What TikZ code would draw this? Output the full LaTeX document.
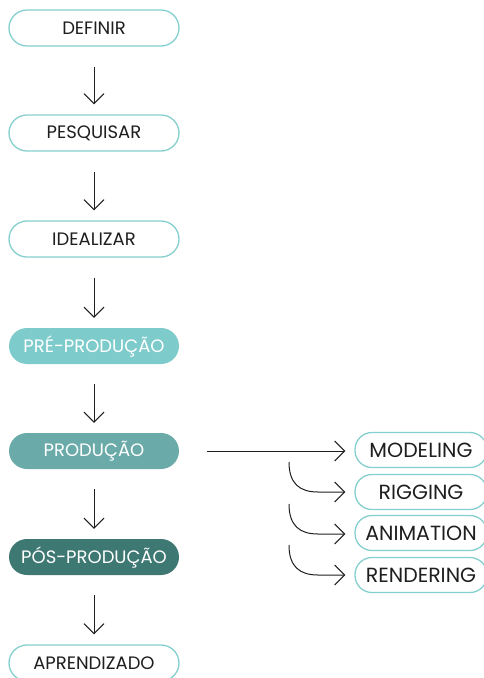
\documentclass[tikz,border=0pt]{standalone}
\usepackage{fontspec}
\setmainfont{Poppins}
\usetikzlibrary{arrows.meta,positioning}
\definecolor{tealline}{HTML}{86CFCF}
\definecolor{tealA}{HTML}{7ECBCB}
\definecolor{tealB}{HTML}{6AABA9}
\definecolor{tealC}{HTML}{3E7873}
\definecolor{ink}{HTML}{1E1E1E}
\tikzset{
  x=1pt,y=-1pt,
  stage/.style={rounded corners=18pt,minimum width=170pt,minimum height=36pt,inner sep=0pt,font=\fontsize{18}{21}\selectfont,text=ink},
  outl/.style={stage,draw=tealline,line width=1.3pt,fill=white},
  filledA/.style={stage,fill=tealA,text=white},
  filledB/.style={stage,fill=tealB,text=white},
  filledC/.style={stage,fill=tealC,text=white},
  sub/.style={outl,minimum width=132pt,minimum height=35pt,rounded corners=17pt,font=\fontsize{20.5}{24}\selectfont},
  flow/.style={draw=ink,line width=1pt,-{Straight Barb[length=10pt,width=20pt,line width=1pt]}},
}
\begin{document}
\begin{tikzpicture}
\useasboundingbox (0,0) rectangle (483,678);
\node[outl] (d) at (94,28) {DEFINIR};
\node[outl] (p) at (94,133) {PESQUISAR};
\node[outl] (i) at (94,239) {IDEALIZAR};
\node[filledA] (pre) at (94,346) {PRÉ-PRODUÇÃO};
\node[filledB] (prod) at (94,451) {PRODUÇÃO};
\node[filledC] (pos) at (94,557) {PÓS-PRODUÇÃO};
\node[outl] (a) at (94,663) {APRENDIZADO};

\node[sub] (m) at (421,450) {MODELING};
\node[sub] (r) at (421,492) {RIGGING};
\node[sub] (an) at (421,533) {ANIMATION};
\node[sub] (re) at (421,575) {RENDERING};

\foreach \u/\v in {d/p,p/i,i/pre,pre/prod,prod/pos,pos/a}{
  \draw[flow] ([yshift=-20pt]\u.south) -- ([yshift=10pt]\v.north);
}
\coordinate (h0) at (207,451);
\draw[flow] (h0) -- ([xshift=-9pt]m.west |- h0);
\foreach \t/\y in {r/462,an/504,re/545}{
  \coordinate (c\t) at (289,\y);
  \draw[flow] (c\t) .. controls (289,\y+22) and (300,\y+30) .. (318,\y+30) -- ([xshift=-9pt]\t.west |- 320,\y+30);
}
\end{tikzpicture}
\end{document}
